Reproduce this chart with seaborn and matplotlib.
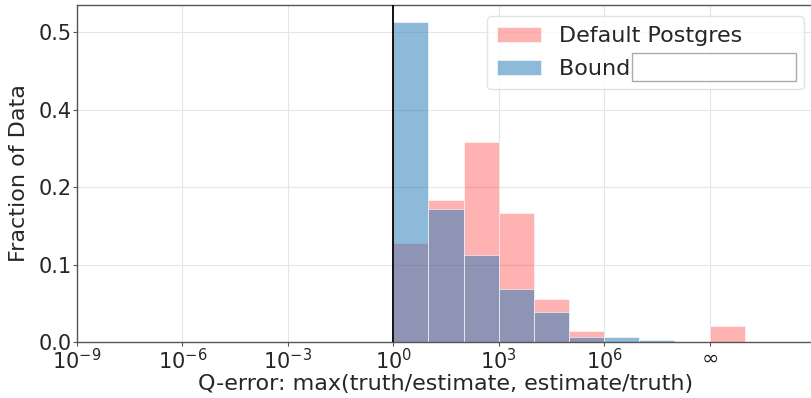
import matplotlib
matplotlib.use("Agg")
import matplotlib.pyplot as plt
import matplotlib.patches as mpatches
from matplotlib.ticker import FormatStrFormatter
import seaborn as sns
import pandas as pd

# log10 of the lower edge of each decade bin
bin_starts = [0, 1, 2, 3, 4, 5, 6, 7, 8, 9]
postgres_frac = [0.160, 0.229, 0.323, 0.209, 0.069, 0.017, 0.0, 0.0, 0.0, 0.026]
bound_frac = [0.517, 0.2145, 0.141, 0.0855, 0.048, 0.0086, 0.0086, 0.0027, 0.0, 0.0]

xtick_pos = [-9, -6, -3, 0, 3, 6, 9]
xtick_labels = ["$10^{-9}$", "$10^{-6}$", "$10^{-3}$", "$10^{0}$", "$10^{3}$", "$10^{6}$", r"$\infty$"]
ytick_pos = [0, 0.125, 0.25, 0.375, 0.5]

df = pd.DataFrame({"logq": [b + 0.5 for b in bin_starts],
                   "pg": postgres_frac, "bound": bound_frac})

sns.set_style("whitegrid")
plt.rcParams["font.family"] = ["DejaVu Sans"]

fig = plt.figure(figsize=(8.11, 3.98), dpi=100)
# right edge of the axes runs just past the picture, as in the cropped original
ax = fig.add_axes([77 / 811, 56 / 398, (815 - 77) / 811, (342 - 5) / 398])

sns.histplot(data=df, x="logq", weights="pg", binwidth=1, binrange=(0, 10),
             color="red", alpha=0.3, edgecolor="white", linewidth=0.4,
             label="Default Postgres", ax=ax)
sns.histplot(data=df, x="logq", weights="bound", binwidth=1, binrange=(0, 10),
             color="#1f77b4", alpha=0.5, edgecolor="white", linewidth=0.4,
             label="Bound" + "\u00a0" * 23, ax=ax)

ax.axvline(0, color="black", linewidth=1.3, zorder=3)

ax.set_xlim(-9, 12)
ax.set_ylim(0, 0.544)
ax.set_xticks(xtick_pos)
ax.set_xticklabels(xtick_labels)
ax.set_yticks(ytick_pos)
ax.yaxis.set_major_formatter(FormatStrFormatter("%.1f"))
ax.tick_params(axis="both", labelsize=15, length=3, width=0.8, color="#555555",
               bottom=True, left=True, pad=1)
ax.grid(color="#e6e6e6", linewidth=0.8)
for s in ax.spines.values():
    s.set_color("#555555")
    s.set_linewidth(1.0)

ax.set_xlabel("Q-error: max(truth/estimate, estimate/truth)", fontsize=16, labelpad=1)
ax.set_ylabel("Fraction of Data", fontsize=16, labelpad=7)

leg = ax.legend(loc="upper right", fontsize=16, frameon=True, borderpad=0.45,
                handlelength=2.0, handletextpad=0.8, labelspacing=0.6,
                borderaxespad=0.5)
leg.get_frame().set_edgecolor("#dddddd")

# empty text box drawn beside the "Bound" label
fig.patches.append(mpatches.Rectangle((632 / 811, (398 - 81) / 398), 164 / 811, 28 / 398,
                                      transform=fig.transFigure, facecolor="white",
                                      edgecolor="#aaaaaa", linewidth=1.0, zorder=10))

fig.savefig("out.png", dpi=100)
